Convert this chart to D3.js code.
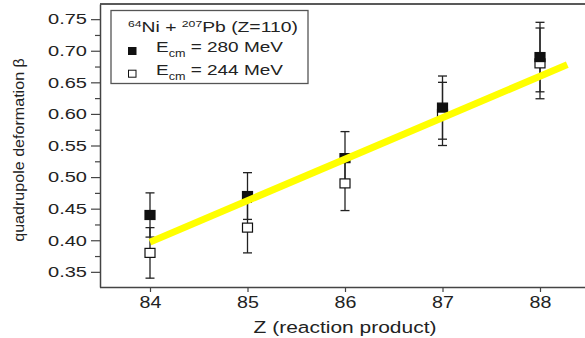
<!DOCTYPE html>
<html><head><meta charset="utf-8">
<script src="https://cdn.jsdelivr.net/npm/d3@7"></script>
<style>
body{margin:0;background:#fff}
svg{display:block}
text{font-family:"Liberation Sans",Arial,Helvetica,sans-serif;fill:#222}
</style>
</head><body>
<svg id="c" width="585" height="338"></svg>
<script>
// ---- data ----
const zValues   = [84, 85, 86, 87, 88];
const beta280   = [0.44, 0.47, 0.53, 0.61, 0.69];
const err280    = [0.035, 0.037, 0.042, 0.05, 0.055];
const beta244   = [0.38, 0.42, 0.49, 0.60, 0.68];
const err244    = [0.04, 0.04, 0.043, 0.05, 0.056];
const fitZ      = [84, 88.28];
const fitBeta   = [0.397, 0.678];
const xTicks      = [84, 85, 86, 87, 88];
const xTickLabels = ["84", "85", "86", "87", "88"];
const yTicks      = [0.35, 0.40, 0.45, 0.50, 0.55, 0.60, 0.65, 0.70, 0.75];
const yTickLabels = ["0.35", "0.40", "0.45", "0.50", "0.55", "0.60", "0.65", "0.70", "0.75"];
const yMinorTicks = [0.375, 0.425, 0.475, 0.525, 0.575, 0.625, 0.675, 0.725];
const xTitle = "Z (reaction product)";
const yTitle = "quadrupole deformation β";
const legendTitleParts = [["64", "sup"], ["Ni + ", ""], ["207", "sup"], ["Pb (Z=110)", ""]];
const legendRows = [
  {label: "280 MeV", filled: true},
  {label: "244 MeV", filled: false}
];

// ---- layout ----
const svg = d3.select("#c");
const L = 100, T = 4, B = 287, R = 600;
const x = d3.scaleLinear().domain([84, 88]).range([150, 540]);
const y = d3.scaleLinear().domain([0.326, 0.774]).range([B, T]);

function hscale(node, target, ax) {
  const w = node.getBBox().width;
  const s = target / w;
  d3.select(node).attr("transform", `translate(${ax},0) scale(${s},1) translate(${-ax},0)`);
}

// frame
svg.append("line").attr("x1", L).attr("x2", R).attr("y1", T).attr("y2", T)
  .attr("stroke", "#222").attr("stroke-width", 1.4);

// y minor ticks
svg.append("g").attr("transform", `translate(${L},0)`)
  .call(d3.axisLeft(y).tickValues(yMinorTicks).tickSize(5).tickFormat(""))
  .call(g => g.select(".domain").remove())
  .call(g => g.selectAll("line").attr("stroke", "#444").attr("stroke-width", 1.2));

// y axis
const gy = svg.append("g").attr("transform", `translate(${L},0)`)
  .call(d3.axisLeft(y).tickValues(yTicks).tickSize(9).tickPadding(4)
        .tickFormat((d, i) => yTickLabels[i]).tickSizeOuter(0));
gy.select(".domain").attr("stroke", "#444").attr("stroke-width", 1.5);
gy.selectAll("line").attr("stroke", "#444").attr("stroke-width", 1.2);
gy.selectAll("text").attr("font-size", 15).attr("fill", "#222")
  .attr("font-family", '"Liberation Sans",Arial,sans-serif')
  .each(function(){ hscale(this, 39, -13); });

// x axis
const gx = svg.append("g").attr("transform", `translate(0,${B})`)
  .call(d3.axisBottom(x).tickValues(xTicks).tickSize(5).tickPadding(4.7)
        .tickFormat((d, i) => xTickLabels[i]).tickSizeOuter(0));
gx.select(".domain").attr("d", `M${L},0.5H${R}`).attr("stroke", "#444").attr("stroke-width", 1.5);
gx.selectAll("line").attr("stroke", "#444").attr("stroke-width", 1.2);
gx.selectAll("text").attr("font-size", 16).attr("fill", "#222")
  .attr("font-family", '"Liberation Sans",Arial,sans-serif')
  .each(function(){ hscale(this, 22, 0); });

// axis titles
const xt = svg.append("text").attr("x", 345).attr("y", 333)
  .attr("text-anchor", "middle").attr("font-size", 17).text(xTitle);
hscale(xt.node(), 183, 345);

const ytg = svg.append("g").attr("transform", "translate(24,150) rotate(-90)");
const yt = ytg.append("text").attr("x", 0).attr("y", 0)
  .attr("text-anchor", "middle").attr("font-size", 15).text(yTitle);
hscale(yt.node(), 184, 0);

// data layers
const series = [
  {vals: beta244, errs: err244, filled: false},
  {vals: beta280, errs: err280, filled: true}
];
const gErr = svg.append("g");
series.forEach(s => {
  zValues.forEach((z, i) => {
    const cx = x(z), lo = y(s.vals[i] - s.errs[i]), hi = y(s.vals[i] + s.errs[i]);
    gErr.append("line").attr("x1", cx).attr("x2", cx).attr("y1", lo).attr("y2", hi)
      .attr("stroke", "#222").attr("stroke-width", 1.3);
    [lo, hi].forEach(yy => gErr.append("line").attr("x1", cx - 4.5).attr("x2", cx + 4.5)
      .attr("y1", yy).attr("y2", yy).attr("stroke", "#222").attr("stroke-width", 1.3));
  });
});
const gSym = svg.append("g");
series.forEach(s => {
  gSym.selectAll(null).data(zValues).join("rect")
    .attr("x", d => x(d) - 5).attr("width", 10)
    .attr("y", (d, i) => y(s.vals[i]) - 4.5).attr("height", 9)
    .attr("fill", s.filled ? "#111" : "#fff")
    .attr("stroke", "#111").attr("stroke-width", 1.2);
});

// fit line
svg.append("line")
  .attr("x1", x(fitZ[0])).attr("y1", y(fitBeta[0]))
  .attr("x2", x(fitZ[1])).attr("y2", y(fitBeta[1]))
  .attr("stroke", "#ffff00").attr("stroke-width", 7);

// legend
const lg = svg.append("g");
lg.append("rect").attr("x", 111).attr("y", 10.5).attr("width", 197).attr("height", 73)
  .attr("fill", "#fff").attr("stroke", "#555").attr("stroke-width", 1.3);
const lt = lg.append("text").attr("x", 128).attr("y", 31.7).attr("font-size", 15);
legendTitleParts.forEach(([t, kind], i) => {
  const prev = i > 0 ? legendTitleParts[i - 1][1] : "";
  let dy = 0;
  if (kind === "sup" && prev !== "sup") dy = -5;
  if (kind !== "sup" && prev === "sup") dy = 5;
  lt.append("tspan").attr("dy", dy).attr("font-size", kind === "sup" ? 9.5 : 15).text(t);
});
hscale(lt.node(), 170, 128);

legendRows.forEach((r, i) => {
  const by = 52.3 + i * 22.7;
  lg.append("rect").attr("x", 128.5).attr("y", by - 4.8).attr("width", 7.5).attr("height", 7)
    .attr("fill", r.filled ? "#111" : "#fff").attr("stroke", "#111").attr("stroke-width", 1);
  const t = lg.append("text").attr("x", 156).attr("y", by).attr("font-size", 15);
  t.append("tspan").text("E");
  t.append("tspan").attr("dy", 5).attr("font-size", 10).text("cm");
  t.append("tspan").attr("dy", -5).text(" = " + r.label);
  hscale(t.node(), 127, 156);
});
</script>
</body></html>
